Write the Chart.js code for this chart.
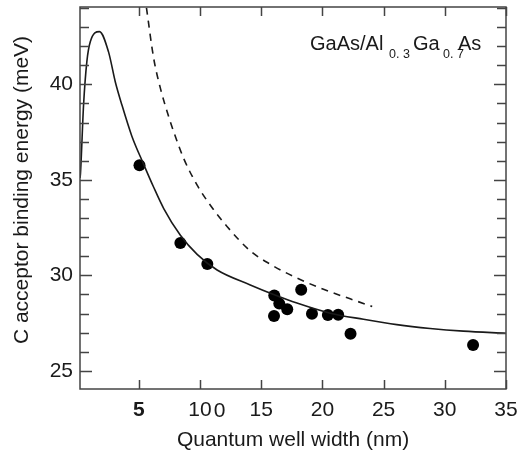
<!DOCTYPE html>
<html>
<head>
<meta charset="utf-8">
<script src="https://cdn.jsdelivr.net/npm/chart.js@4.4.1/dist/chart.umd.min.js"></script>
<style>
    html, body { margin: 0; padding: 0; background: #fff; }
    #wrap { width: 517px; height: 454px; position: relative; }
</style>
</head>
<body>
<div id="wrap"><canvas id="chart" width="517" height="454"></canvas></div>
<script>
// Measured C acceptor binding energies (dots)
const measuredWidth  = [5.06, 8.40, 10.6, 16.07, 16.48, 17.13, 16.05, 18.27, 19.15, 20.45, 21.29, 22.3, 32.31];
const measuredEnergy = [35.77, 31.69, 30.59, 28.95, 28.52, 28.22, 27.87, 29.25, 27.99, 27.92, 27.94, 26.94, 26.35];

// Solid calculated curve
const calcWidth  = [0.2, 0.24, 0.49, 0.76, 1.04, 1.79, 2.53, 3.08, 3.61, 4.43, 5.41, 6.2, 7.04, 8.4, 9.77, 11.4, 14.11, 16.02, 17.92, 20.64, 23.36, 26.08, 28.8, 31.52, 35];
const calcEnergy = [35.1, 35.35, 38.91, 41.19, 42.23, 42.76, 41.7, 40.14, 38.95, 37.3, 35.8, 34.64, 33.5, 32.1, 31.1, 30.28, 29.5, 29.0, 28.55, 28.02, 27.7, 27.42, 27.22, 27.08, 26.97];

// Dashed curve
const dashWidth  = [5.63, 6.22, 6.77, 7.32, 7.86, 8.67, 9.77, 10.85, 12.21, 14.11, 15.75, 17.92, 20.09, 22.27, 24.07];
const dashEnergy = [44.0, 41.36, 39.79, 38.56, 37.51, 36.12, 34.72, 33.67, 32.56, 31.28, 30.58, 29.86, 29.27, 28.77, 28.37];

const xTicks = [5, 10, 15, 20, 25, 30, 35];
const yTicks = [25, 30, 35, 40];
const yMinorTicks = [25, 26, 27, 28, 29, 30, 31, 32, 33, 34, 35, 36, 37, 38, 39, 40, 41, 42, 43, 44];

const FONT = '"Liberation Sans", Arial, sans-serif';
const INK = '#1a1a1a';

const toXY = (xs, ys) => xs.map((x, i) => ({ x: x, y: ys[i] }));

// frame, inward ticks, titles and the label inside the plot
const decorations = {
    id: 'decorations',
    afterDraw(chart) {
        const { ctx, chartArea, scales } = chart;
        const { left, right, top, bottom } = chartArea;
        ctx.save();
        ctx.strokeStyle = '#444';
        ctx.lineWidth = 1.5;
        ctx.strokeRect(left, top, right - left, bottom - top);

        ctx.beginPath();
        yMinorTicks.forEach(v => {
            const py = Math.round(scales.y.getPixelForValue(v)) + 0.5;
            const len = v % 5 === 0 ? 12 : 9;
            ctx.moveTo(left, py); ctx.lineTo(left + len, py);
            ctx.moveTo(right, py); ctx.lineTo(right - len, py);
        });
        xTicks.forEach(v => {
            const px = Math.round(scales.x.getPixelForValue(v)) + 0.5;
            ctx.moveTo(px, bottom); ctx.lineTo(px, bottom - 9);
            ctx.moveTo(px, top); ctx.lineTo(px, top + 9);
        });
        ctx.stroke();

        ctx.fillStyle = INK;
        // stray "0" after the 10 label
        ctx.font = '21px ' + FONT;
        ctx.textAlign = 'left';
        ctx.textBaseline = 'alphabetic';
        const p10 = scales.x.getPixelForValue(10);
        ctx.fillText('0', p10 + ctx.measureText('10').width / 2 + 2, 417);

        // axis titles
        ctx.textAlign = 'center';
        ctx.fillText('Quantum well width (nm)', 293, 446);
        ctx.save();
        ctx.translate(28, 190);
        ctx.rotate(-Math.PI / 2);
        ctx.fillText('C acceptor binding energy (meV)', 0, 0);
        ctx.restore();

        // GaAs/Al0.3Ga0.7As
        ctx.textAlign = 'left';
        const big = '20px ' + FONT, small = '12.5px ' + FONT;
        ctx.font = big;   ctx.fillText('GaAs/Al', 310, 50);
        ctx.font = small; ctx.fillText('0. 3', 389, 58);
        ctx.font = big;   ctx.fillText('Ga', 413, 50);
        ctx.font = small; ctx.fillText('0. 7', 443, 58);
        ctx.font = big;   ctx.fillText('As', 458, 50);
        ctx.restore();
    }
};

new Chart(document.getElementById('chart'), {
    type: 'scatter',
    data: {
        datasets: [
            {
                data: toXY(calcWidth, calcEnergy),
                showLine: true,
                borderColor: INK,
                borderWidth: 1.6,
                pointRadius: 0,
                cubicInterpolationMode: 'monotone'
            },
            {
                data: toXY(dashWidth, dashEnergy),
                showLine: true,
                borderColor: INK,
                borderWidth: 1.6,
                borderDash: [7, 6],
                pointRadius: 0,
                cubicInterpolationMode: 'monotone'
            },
            {
                data: toXY(measuredWidth, measuredEnergy),
                pointRadius: 6,
                pointBackgroundColor: '#000',
                pointBorderColor: '#000',
                pointBorderWidth: 0
            }
        ]
    },
    options: {
        responsive: false,
        animation: false,
        devicePixelRatio: 1,
        layout: { padding: { top: 7, right: 11, left: 0, bottom: 0 } },
        plugins: {
            legend: { display: false },
            tooltip: { enabled: false }
        },
        scales: {
            x: {
                type: 'linear',
                min: 0.2,
                max: 35,
                grid: { display: false, drawTicks: false },
                border: { display: false },
                afterFit: scale => {
                    scale.height = 65;
                    scale.paddingLeft = 0;
                    scale.paddingRight = 0;
                },
                afterBuildTicks: scale => { scale.ticks = xTicks.map(v => ({ value: v })); },
                ticks: {
                    padding: 9,
                    color: INK,
                    maxRotation: 0,
                    autoSkip: false,
                    font: c => ({ family: FONT, size: 21, weight: c.tick && c.tick.value === 5 ? 'bold' : 'normal' })
                }
            },
            y: {
                type: 'linear',
                min: 24.05,
                max: 44.05,
                grid: { display: false, drawTicks: false },
                border: { display: false },
                afterFit: scale => {
                    scale.width = 80;
                    scale.paddingTop = 0;
                    scale.paddingBottom = 0;
                },
                afterBuildTicks: scale => { scale.ticks = yTicks.map(v => ({ value: v })); },
                ticks: {
                    padding: 7,
                    color: INK,
                    autoSkip: false,
                    font: { family: FONT, size: 21 }
                }
            }
        }
    },
    plugins: [decorations]
});
</script>
</body>
</html>
